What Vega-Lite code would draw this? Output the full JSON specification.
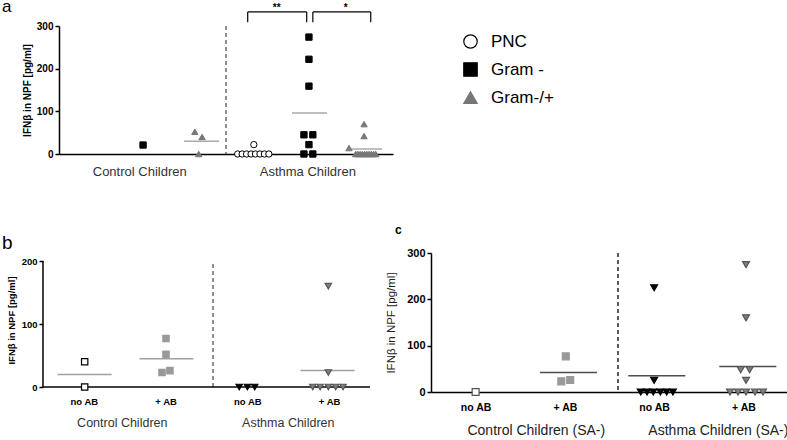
{
  "$schema": "https://vega.github.io/schema/vega-lite/v6.json",
  "background": "white",
  "padding": {"left": 2, "top": -3, "right": 0, "bottom": 0},
  "config": {
    "view": {"stroke": null},
    "font": "Liberation Sans",
    "axis": {"grid": false, "domainColor": "black", "tickColor": "black", "labelColor": "black", "titleColor": "black", "domainWidth": 1.5, "tickWidth": 1.5},
    "title": {"color": "black", "fontWeight": "normal", "anchor": "start", "frame": "group"}
  },
  "resolve": {"scale": {"shape": "independent", "fill": "independent", "stroke": "independent"}},
  "spacing": 45,
  "vconcat": [
    {
      "width": 334,
      "height": 128,
      "title": {"text": "a", "fontSize": 17, "dx": -57, "offset": -13},
      "layer": [
        {
          "data": {"values": [{"sep": 3}]},
          "mark": {"type": "rule", "strokeDash": [4, 3], "color": "#555", "strokeWidth": 1.3},
          "encoding": {"x": {"field": "sep", "type": "quantitative"}}
        },
        {
          "data": {"values": [
            {"pos": 1.51, "v": 21, "type": "Gram -"},
            {"pos": 2.44, "v": 52, "type": "Gram-/+"},
            {"pos": 2.57, "v": 40, "type": "Gram-/+"},
            {"pos": 2.51, "v": 0, "type": "Gram-/+"},
            {"pos": 3.21, "v": 0, "type": "PNC"},
            {"pos": 3.29, "v": 0, "type": "PNC"},
            {"pos": 3.37, "v": 0, "type": "PNC"},
            {"pos": 3.45, "v": 0, "type": "PNC"},
            {"pos": 3.53, "v": 0, "type": "PNC"},
            {"pos": 3.61, "v": 0, "type": "PNC"},
            {"pos": 3.69, "v": 0, "type": "PNC"},
            {"pos": 3.77, "v": 0, "type": "PNC"},
            {"pos": 3.5, "v": 22, "type": "PNC"},
            {"pos": 4.49, "v": 274, "type": "Gram -"},
            {"pos": 4.49, "v": 222, "type": "Gram -"},
            {"pos": 4.49, "v": 159, "type": "Gram -"},
            {"pos": 4.4, "v": 45, "type": "Gram -"},
            {"pos": 4.56, "v": 45, "type": "Gram -"},
            {"pos": 4.49, "v": 22, "type": "Gram -"},
            {"pos": 4.4, "v": 0, "type": "Gram -"},
            {"pos": 4.56, "v": 0, "type": "Gram -"},
            {"pos": 5.48, "v": 70, "type": "Gram-/+"},
            {"pos": 5.48, "v": 42, "type": "Gram-/+"},
            {"pos": 5.21, "v": 14, "type": "Gram-/+"},
            {"pos": 5.33, "v": 0, "type": "Gram-/+"},
            {"pos": 5.37, "v": 0, "type": "Gram-/+"},
            {"pos": 5.41, "v": 0, "type": "Gram-/+"},
            {"pos": 5.45, "v": 0, "type": "Gram-/+"},
            {"pos": 5.49, "v": 0, "type": "Gram-/+"},
            {"pos": 5.53, "v": 0, "type": "Gram-/+"},
            {"pos": 5.57, "v": 0, "type": "Gram-/+"},
            {"pos": 5.61, "v": 0, "type": "Gram-/+"},
            {"pos": 5.65, "v": 0, "type": "Gram-/+"},
            {"pos": 5.69, "v": 0, "type": "Gram-/+"}
          ]},
          "mark": {"type": "point", "filled": false, "size": 40, "strokeWidth": 1, "opacity": 1},
          "encoding": {
            "x": {"field": "pos", "type": "quantitative", "scale": {"domain": [0, 6], "nice": false, "zero": false}, "axis": {"labels": false, "ticks": false, "title": null}},
            "y": {"field": "v", "type": "quantitative", "scale": {"domain": [0, 300], "nice": false}, "axis": {"values": [0, 100, 200, 300], "title": "IFNβ in NPF [pg/ml]", "titleFontSize": 10, "titleFontWeight": "bold", "labelFontSize": 10, "labelFontWeight": "bold", "tickSize": 4, "labelPadding": 2, "titlePadding": 4}},
            "shape": {"field": "type", "type": "nominal", "scale": {"domain": ["PNC", "Gram -", "Gram-/+"], "range": ["circle", "square", "triangle-up"]}, "legend": {"orient": "right", "offset": 62, "padding": 7, "title": null, "labelFontSize": 17, "labelColor": "black", "symbolSize": 180, "rowPadding": 9, "labelOffset": 12, "symbolStrokeWidth": 1.2}},
            "fill": {"field": "type", "type": "nominal", "scale": {"domain": ["PNC", "Gram -", "Gram-/+"], "range": ["white", "black", "#777777"]}},
            "stroke": {"field": "type", "type": "nominal", "scale": {"domain": ["PNC", "Gram -", "Gram-/+"], "range": ["black", "black", "#777777"]}}
          }
        },
        {
          "data": {"values": [
            {"pos": 2.56, "m": 30},
            {"pos": 4.5, "m": 96},
            {"pos": 5.49, "m": 12}
          ]},
          "mark": {"type": "tick", "orient": "horizontal", "size": 35, "thickness": 1.5, "color": "#888888"},
          "encoding": {
            "x": {"field": "pos", "type": "quantitative"},
            "y": {"field": "m", "type": "quantitative"}
          }
        },
        {
          "data": {"values": [
            {"x1": 3.39, "x2": 4.45, "top": 333, "bot": 309, "mid": 3.91, "sig": "**"},
            {"x1": 4.56, "x2": 5.6, "top": 333, "bot": 309, "mid": 5.15, "sig": "*"}
          ]},
          "layer": [
            {"mark": {"type": "rule", "color": "black", "strokeWidth": 1.2}, "encoding": {"x": {"field": "x1", "type": "quantitative"}, "x2": {"field": "x2"}, "y": {"field": "top", "type": "quantitative"}}},
            {"mark": {"type": "rule", "color": "black", "strokeWidth": 1.2}, "encoding": {"x": {"field": "x1", "type": "quantitative"}, "y": {"field": "top", "type": "quantitative"}, "y2": {"field": "bot"}}},
            {"mark": {"type": "rule", "color": "black", "strokeWidth": 1.2}, "encoding": {"x": {"field": "x2", "type": "quantitative"}, "y": {"field": "top", "type": "quantitative"}, "y2": {"field": "bot"}}},
            {"mark": {"type": "text", "fontSize": 10, "fontWeight": "bold", "color": "black", "dy": 2}, "encoding": {"x": {"field": "mid", "type": "quantitative"}, "y": {"datum": 348}, "text": {"field": "sig"}}}
          ]
        },
        {
          "data": {"values": [
            {"pos": 1.45, "label": "Control Children"},
            {"pos": 4.47, "label": "Asthma Children"}
          ]},
          "mark": {"type": "text", "fontSize": 13, "color": "#333333", "dy": 18},
          "encoding": {
            "x": {"field": "pos", "type": "quantitative"},
            "y": {"datum": 0},
            "text": {"field": "label"}
          }
        }
      ]
    },
    {
      "spacing": 14,
      "resolve": {"scale": {"shape": "independent", "fill": "independent", "stroke": "independent"}},
      "hconcat": [
        {
          "width": 311,
          "height": 134,
          "title": {"text": "b", "fontSize": 19, "dx": -57, "offset": 0},
          "layer": [
            {
              "data": {"values": [{"sep": 2.08, "lo": 0, "hi": 200}]},
              "mark": {"type": "rule", "strokeDash": [4, 3], "color": "#555", "strokeWidth": 1.3},
              "encoding": {"x": {"field": "sep", "type": "quantitative"}, "y": {"field": "lo", "type": "quantitative"}, "y2": {"field": "hi"}}
            },
            {
              "data": {"values": [{"x0": 0, "x1": 4, "lo": 0, "hi": 200}]},
              "layer": [
                {"mark": {"type": "rule", "color": "black", "strokeWidth": 1.5}, "encoding": {"x": {"field": "x0", "type": "quantitative"}, "y": {"field": "lo", "type": "quantitative"}, "y2": {"field": "hi"}}},
                {"mark": {"type": "rule", "color": "black", "strokeWidth": 1.5}, "encoding": {"x": {"field": "x0", "type": "quantitative"}, "x2": {"field": "x1"}, "y": {"field": "lo", "type": "quantitative"}}}
              ]
            },
            {
              "data": {"values": [
                {"m": 20, "pos": 0.51},
                {"m": 45, "pos": 1.51},
                {"m": 26, "pos": 3.48}
              ]},
              "mark": {"type": "tick", "orient": "horizontal", "size": 54, "thickness": 1.5, "color": "#777777"},
              "encoding": {
                "x": {"field": "pos", "type": "quantitative"},
                "y": {"field": "m", "type": "quantitative"}
              }
            },
            {
              "data": {"values": [
                {"pos": 0.51, "v": 40, "grp": "ctrl no AB"},
                {"pos": 0.51, "v": 0, "grp": "ctrl no AB"},
                {"pos": 1.505, "v": 77, "grp": "ctrl + AB"},
                {"pos": 1.505, "v": 52, "grp": "ctrl + AB"},
                {"pos": 1.456, "v": 23, "grp": "ctrl + AB"},
                {"pos": 1.553, "v": 26, "grp": "ctrl + AB"},
                {"pos": 2.4, "v": 0, "grp": "asth no AB"},
                {"pos": 2.5, "v": 0, "grp": "asth no AB"},
                {"pos": 2.59, "v": 0, "grp": "asth no AB"},
                {"pos": 3.49, "v": 160, "grp": "asth + AB"},
                {"pos": 3.49, "v": 23, "grp": "asth + AB"},
                {"pos": 3.3, "v": 0, "grp": "asth + AB"},
                {"pos": 3.39, "v": 0, "grp": "asth + AB"},
                {"pos": 3.49, "v": 0, "grp": "asth + AB"},
                {"pos": 3.58, "v": 0, "grp": "asth + AB"},
                {"pos": 3.67, "v": 0, "grp": "asth + AB"}
              ]},
              "mark": {"type": "point", "filled": false, "size": 40, "strokeWidth": 1.2, "opacity": 1},
              "encoding": {
                "x": {"field": "pos", "type": "quantitative", "scale": {"domain": [0.196, 4], "nice": false, "zero": false}, "axis": {"values": [0.5, 1.5, 2.5, 3.5], "labelExpr": "datum.value % 2 < 1 ? 'no AB' : '+ AB'", "domain": false, "ticks": false, "tickSize": 0, "labelPadding": 9, "labelFontSize": 9.5, "labelFontWeight": "bold", "title": null}},
                "y": {"field": "v", "type": "quantitative", "scale": {"domain": [0, 212.7], "nice": false}, "axis": {"values": [0, 50, 100, 150, 200], "offset": 16, "domain": false, "title": "IFNβ in NPF [pg/ml]", "titleFontSize": 9.5, "titleFontWeight": "bold", "labelFontSize": 9.5, "labelFontWeight": "bold", "tickSize": 4, "labelPadding": 2, "titlePadding": 5}},
                "shape": {"field": "grp", "type": "nominal", "legend": null, "scale": {"domain": ["ctrl no AB", "ctrl + AB", "asth no AB", "asth + AB"], "range": ["square", "square", "triangle-down", "triangle-down"]}},
                "fill": {"field": "grp", "type": "nominal", "legend": null, "scale": {"domain": ["ctrl no AB", "ctrl + AB", "asth no AB", "asth + AB"], "range": ["white", "#999999", "black", "#808080"]}},
                "stroke": {"field": "grp", "type": "nominal", "legend": null, "scale": {"domain": ["ctrl no AB", "ctrl + AB", "asth no AB", "asth + AB"], "range": ["black", "#999999", "black", "#555555"]}}
              }
            },
            {
              "data": {"values": [
                {"pos": 0.97, "label": "Control Children"},
                {"pos": 3.0, "label": "Asthma Children"}
              ]},
              "mark": {"type": "text", "fontSize": 12.5, "color": "#333333", "dy": 36},
              "encoding": {
                "x": {"field": "pos", "type": "quantitative"},
                "y": {"datum": 0},
                "text": {"field": "label"}
              }
            }
          ]
        },
        {
          "width": 357,
          "height": 139,
          "title": {"text": "c", "fontSize": 12, "fontWeight": "bold", "dx": -36, "offset": 10},
          "layer": [
            {
              "data": {"values": [{"sep": 2.095}]},
              "mark": {"type": "rule", "strokeDash": [4, 3], "color": "#333", "strokeWidth": 1.6},
              "encoding": {"x": {"field": "sep", "type": "quantitative"}}
            },
            {
              "data": {"values": [
                {"m": 42, "pos": 1.54},
                {"m": 35, "pos": 2.53},
                {"m": 55, "pos": 3.55}
              ]},
              "mark": {"type": "tick", "orient": "horizontal", "size": 57, "thickness": 1.6, "color": "black"},
              "encoding": {
                "x": {"field": "pos", "type": "quantitative"},
                "y": {"field": "m", "type": "quantitative"}
              }
            },
            {
              "data": {"values": [
                {"pos": 0.5, "v": 0, "grp": "ctrl no AB"},
                {"pos": 1.51, "v": 77, "grp": "ctrl + AB"},
                {"pos": 1.46, "v": 23, "grp": "ctrl + AB"},
                {"pos": 1.56, "v": 26, "grp": "ctrl + AB"},
                {"pos": 2.5, "v": 225, "grp": "asth no AB"},
                {"pos": 2.5, "v": 25, "grp": "asth no AB"},
                {"pos": 2.35, "v": 0, "grp": "asth no AB"},
                {"pos": 2.42, "v": 0, "grp": "asth no AB"},
                {"pos": 2.49, "v": 0, "grp": "asth no AB"},
                {"pos": 2.57, "v": 0, "grp": "asth no AB"},
                {"pos": 2.64, "v": 0, "grp": "asth no AB"},
                {"pos": 2.71, "v": 0, "grp": "asth no AB"},
                {"pos": 3.53, "v": 275, "grp": "asth + AB"},
                {"pos": 3.53, "v": 160, "grp": "asth + AB"},
                {"pos": 3.47, "v": 48, "grp": "asth + AB"},
                {"pos": 3.57, "v": 48, "grp": "asth + AB"},
                {"pos": 3.53, "v": 25, "grp": "asth + AB"},
                {"pos": 3.35, "v": 0, "grp": "asth + AB"},
                {"pos": 3.44, "v": 0, "grp": "asth + AB"},
                {"pos": 3.53, "v": 0, "grp": "asth + AB"},
                {"pos": 3.63, "v": 0, "grp": "asth + AB"},
                {"pos": 3.72, "v": 0, "grp": "asth + AB"}
              ]},
              "mark": {"type": "point", "filled": false, "size": 48, "strokeWidth": 1.2, "opacity": 1},
              "encoding": {
                "x": {"field": "pos", "type": "quantitative", "scale": {"domain": [0, 4], "nice": false, "zero": false}, "axis": {"values": [0.5, 1.5, 2.5, 3.5], "labelExpr": "datum.value % 2 < 1 ? 'no AB' : '+ AB'", "ticks": false, "tickSize": 0, "labelPadding": 10, "labelFontSize": 10.5, "labelFontWeight": "bold", "title": null}},
                "y": {"field": "v", "type": "quantitative", "scale": {"domain": [0, 300], "nice": false}, "axis": {"values": [0, 100, 200, 300], "title": "IFNβ in NPF [pg/ml]", "titleFontSize": 11.5, "titleFontWeight": "normal", "titleColor": "#222222", "labelFontSize": 11, "labelFontWeight": "bold", "tickSize": 4, "labelPadding": 2, "titlePadding": 10}},
                "shape": {"field": "grp", "type": "nominal", "legend": null, "scale": {"domain": ["ctrl no AB", "ctrl + AB", "asth no AB", "asth + AB"], "range": ["square", "square", "triangle-down", "triangle-down"]}},
                "fill": {"field": "grp", "type": "nominal", "legend": null, "scale": {"domain": ["ctrl no AB", "ctrl + AB", "asth no AB", "asth + AB"], "range": ["white", "#999999", "black", "#808080"]}},
                "stroke": {"field": "grp", "type": "nominal", "legend": null, "scale": {"domain": ["ctrl no AB", "ctrl + AB", "asth no AB", "asth + AB"], "range": ["#555555", "#999999", "black", "#555555"]}}
              }
            },
            {
              "data": {"values": [
                {"pos": 1.18, "label": "Control Children (SA-)"},
                {"pos": 3.22, "label": "Asthma Children (SA-)"}
              ]},
              "mark": {"type": "text", "fontSize": 14, "color": "#222222", "dy": 39},
              "encoding": {
                "x": {"field": "pos", "type": "quantitative"},
                "y": {"datum": 0},
                "text": {"field": "label"}
              }
            }
          ]
        }
      ]
    }
  ]
}
